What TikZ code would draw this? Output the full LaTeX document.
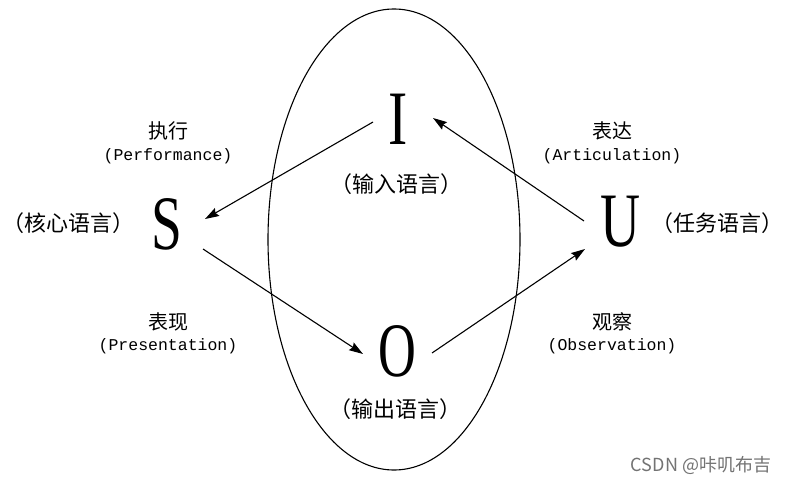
\documentclass[tikz,border=0pt]{standalone}
\usepackage{fontspec}
\setmainfont{Liberation Serif}
\newfontfamily\cjkf{Noto Sans CJK SC}
\newfontfamily\monof{Liberation Mono}
\usetikzlibrary{arrows.meta}
\begin{document}
\begin{tikzpicture}[x=1pt,y=-1pt,
  bigletter/.style={inner sep=0pt,font=\fontsize{77}{77}\selectfont},
  langlabel/.style={inner sep=0pt,font=\cjkf\fontsize{22}{22}\selectfont},
  cnlabel/.style={inner sep=0pt,font=\cjkf\fontsize{20}{20}\selectfont},
  enlabel/.style={inner sep=0pt,font=\monof\fontsize{16.5}{16.5}\selectfont},
  conn/.style={line width=1.1pt,-{Stealth[length=14pt,width=9pt,inset=2pt]}},
  watermark/.style={inner sep=0pt,text=black!55,font=\cjkf\fontsize{18}{18}\selectfont}]
\useasboundingbox[fill=white] (0,0) rectangle (794,487);
\draw[line width=1.1pt] (394,239.5) ellipse [x radius=126, y radius=230.5];
% letters
\node[bigletter] (I) at (398,119) {\scalebox{0.75}[1]{I}};
\node[bigletter] (S) at (167,224) {\scalebox{0.72}[1]{S}};
\node[bigletter] (U) at (621,222) {\scalebox{0.72}[1]{U}};
\node[bigletter] (O) at (397,351) {\scalebox{0.68}[1]{O}};
% language labels
\node[langlabel] (Il) at (396,184) {（输入语言）};
\node[langlabel] (Ol) at (395,409) {（输出语言）};
\node[langlabel] (Sl) at (68,223) {（核心语言）};
\node[langlabel] (Ul) at (717,223) {（任务语言）};
% process labels
\node[cnlabel] (pc) at (168,131) {执行};
\node[enlabel] (pe) at (168,156) {(Performance)};
\node[cnlabel] (ac) at (612,131) {表达};
\node[enlabel] (ae) at (612,156) {(Articulation)};
\node[cnlabel] (rc) at (168,322) {表现};
\node[enlabel] (re) at (168,346) {(Presentation)};
\node[cnlabel] (oc) at (612,322) {观察};
\node[enlabel] (oe) at (612,346) {(Observation)};
% connectors
\draw[conn] ([shift={(-25,3)}]I.center) -- ([shift={(38,-5)}]S.center);
\draw[conn] ([shift={(36,25)}]S.center) -- ([shift={(-34,3)}]O.center);
\draw[conn] ([shift={(35,2)}]O.center) -- ([shift={(-36,27)}]U.center);
\draw[conn] ([shift={(-37,-1)}]U.center) -- ([shift={(35,-1)}]I.center);
% watermark
\node[watermark] (wm) at (701,465) {CSDN @咔叽布吉};
\end{tikzpicture}
\end{document}
